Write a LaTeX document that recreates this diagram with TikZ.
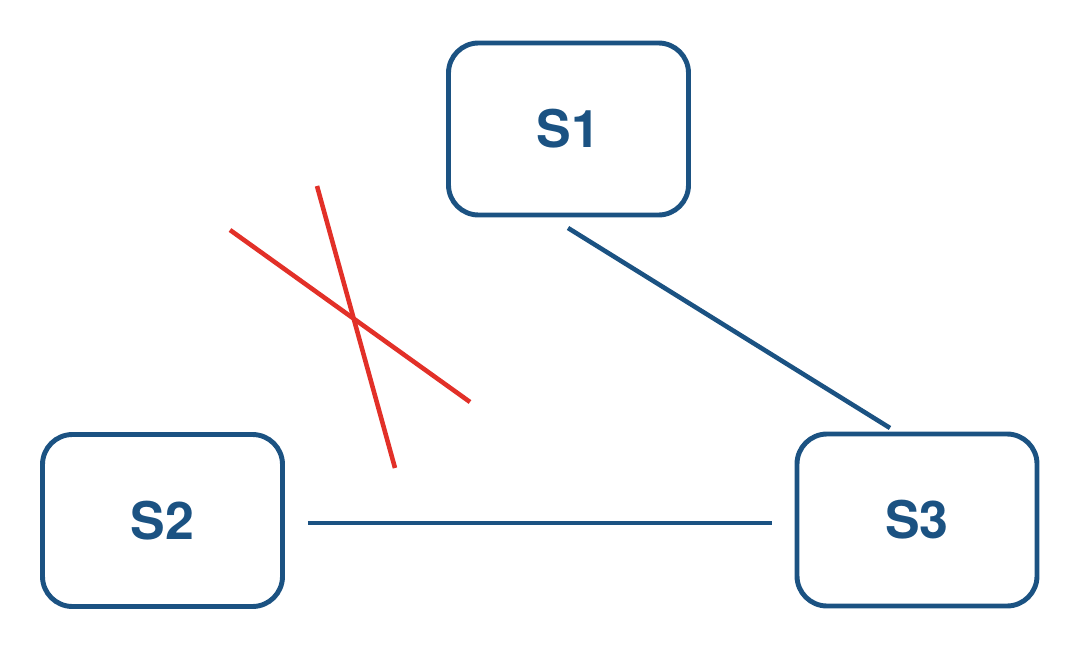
\documentclass[tikz,border=0pt]{standalone}
\usepackage{fontspec}
\setmainfont{TeX Gyre Heros}
\usetikzlibrary{calc}
\definecolor{serverblue}{RGB}{27,82,130}
\definecolor{crossred}{RGB}{226,48,40}

\begin{document}
\begin{tikzpicture}
\tikzstyle{server}=[rectangle, rounded corners=0.6cm, draw=serverblue, line width=2.8pt, minimum width=4.8cm, minimum height=3.44cm, text=serverblue, font=\fontsize{29.5}{34}\selectfont\bfseries];
\tikzstyle{link}=[draw=serverblue, line width=2.6pt];
\tikzstyle{cross}=[draw=crossred, line width=2.6pt];
\useasboundingbox (0,0) rectangle (21.6,12.98);
\coordinate (s1_pos) at (11.37,10.4);
\coordinate (s2_pos) at (3.25,2.57);
\coordinate (s3_pos) at (18.34,2.58);
\coordinate (link_a_start) at (11.36,8.42);
\coordinate (link_a_end) at (17.8,4.42);
\coordinate (cross_a_start) at (4.6,8.38);
\coordinate (cross_a_end) at (9.4,4.94);
\coordinate (cross_b_start) at (6.34,9.26);
\coordinate (cross_b_end) at (7.9,3.62);
\node (S1) at (s1_pos) [style=server] {S1};
\node (S2) at (s2_pos) [style=server] {S2};
\node (S3) at (s3_pos) [style=server] {S3};
\path (link_a_start) -- (link_a_end) [style=link];
\path ($ (S2.east)+(0.46,-0.05) $) -- ($ (S3.west)+(-0.46,-0.06) $) [style=link];
\path (cross_a_start) -- (cross_a_end) [style=cross];
\path (cross_b_start) -- (cross_b_end) [style=cross];
\end{tikzpicture}
\end{document}
